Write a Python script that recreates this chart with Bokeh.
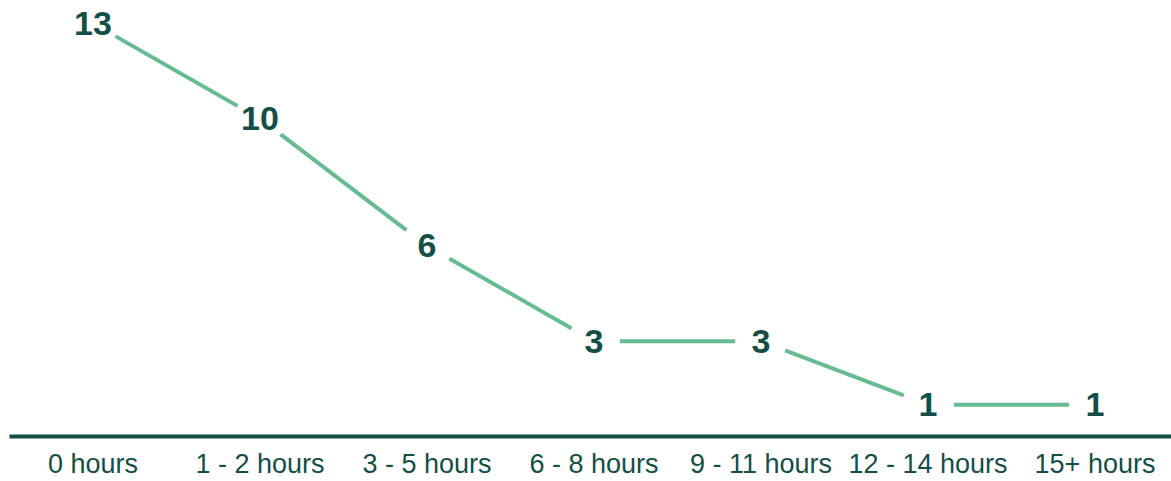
from bokeh.plotting import figure
from bokeh.models import Range1d, ColumnDataSource, FixedTicker
from bokeh.core.properties import value
from bokeh.embed import file_html
from bokeh.resources import INLINE

categories = ["0 hours", "1 - 2 hours", "3 - 5 hours", "6 - 8 hours", "9 - 11 hours", "12 - 14 hours", "15+ hours"]
counts = [13, 10, 6, 3, 3, 1, 1]
labels = [str(v) for v in counts]
positions = list(range(len(categories)))

DARK = "#134f46"
LINE = "#66bb93"

src = ColumnDataSource(dict(x=positions, y=counts, t=labels))

p = figure(width=1171, height=481, x_range=Range1d(-0.5, 6.458),
           y_range=Range1d(0, 13.72), output_backend="svg", toolbar_location=None,
           min_border_left=9, min_border_right=0, min_border_top=0, min_border_bottom=44)
p.outline_line_color = None
p.xgrid.visible = False
p.ygrid.visible = False
p.yaxis.visible = False
p.background_fill_color = "white"
p.border_fill_color = "white"

p.line("x", "y", source=src, line_color=LINE, line_width=4)
p.scatter("x", "y", source=src, size=52, fill_color="white", line_color=None)
p.text("x", "y", text="t", source=src, text_align="center", text_baseline="middle",
       text_font=value("Liberation Sans"), text_font_style="bold", text_font_size="34px",
       text_color=DARK)

ax = p.xaxis[0]
ax.ticker = FixedTicker(ticks=positions)
ax.major_label_overrides = {i: c for i, c in zip(positions, categories)}
ax.axis_line_color = DARK
ax.axis_line_width = 4
ax.major_tick_line_color = None
ax.minor_tick_line_color = None
ax.major_tick_out = 0
ax.major_tick_in = 0
ax.major_label_standoff = 12
ax.major_label_text_font = "Liberation Sans"
ax.major_label_text_font_size = "27px"
ax.major_label_text_color = DARK

open("out.html", "w").write(file_html(p, INLINE))
